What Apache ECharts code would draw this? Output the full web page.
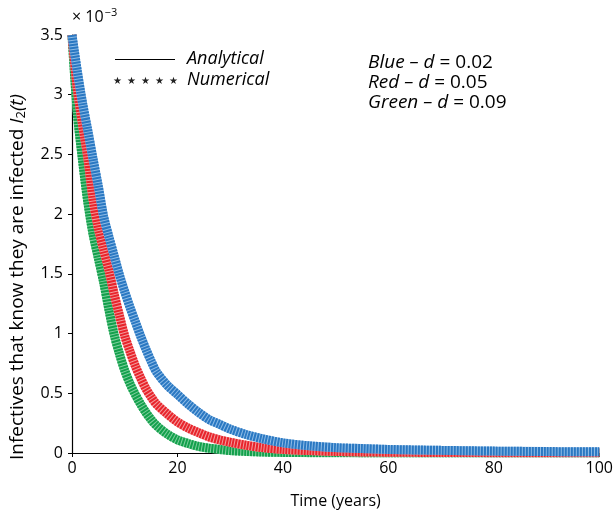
<!DOCTYPE html>
<html><head><meta charset="utf-8">
<script src="https://cdn.jsdelivr.net/npm/echarts@6/dist/echarts.min.js"></script>
<style>html,body{margin:0;padding:0;background:#fff}#c{width:616px;height:524px}</style>
</head><body><div id="c"></div>
<script>
// time (years)
const timeYears = [0,1,2,3,4,5,6,7,8,9,10,11,12,13,14,15,16,18,20,22,24,26,28,30,33,36,40,45,50,55,60,70,80,90,100];
// I2(t) in units of 1e-3
const blueD002 = [3.5,3.2,2.93,2.7,2.46,2.23,1.98,1.81,1.65,1.49,1.35,1.22,1.1,0.98,0.87,0.77,0.68,0.57,0.49,0.41,0.34,0.28,0.24,0.2,0.155,0.12,0.085,0.06,0.045,0.037,0.03,0.022,0.016,0.012,0.01];
const redD005  = [3.5,3.05,2.75,2.47,2.12,1.88,1.7,1.53,1.33,1.15,0.98,0.85,0.73,0.63,0.54,0.47,0.41,0.33,0.26,0.21,0.17,0.135,0.11,0.09,0.065,0.045,0.03,0.02,0.013,0.009,0.007,0.004,0.003,0.002,0.002];
const greenD009= [3.5,2.85,2.45,2.1,1.83,1.63,1.43,1.2,0.99,0.83,0.69,0.58,0.49,0.41,0.34,0.28,0.23,0.16,0.11,0.08,0.055,0.04,0.03,0.02,0.013,0.008,0.005,0.003,0.002,0.001,0.001,0,0,0,0];
const xTicks = {min:0, max:100, interval:20};
const yTicks = {min:0, max:3.5, interval:0.5};
const notes = [['Blue','0.02'],['Red','0.05'],['Green','0.09']];

const FONT = 'Open Sans';
function pairs(ys){ return timeYears.map((t,i)=>[t, ys[i]]); }
function band(name, ys, dark, light){
  return [
    {name:name+'_base', type:'line', data:pairs(ys), smooth:0.3, showSymbol:false, silent:true,
     lineStyle:{color:light, width:9, cap:'butt'}},
    {name:name, type:'line', data:pairs(ys), smooth:0.3, showSymbol:false, silent:true,
     lineStyle:{color:dark, width:9, type:[2,1], cap:'butt'}}
  ];
}
const chart = echarts.init(document.getElementById('c'), null, {renderer:'canvas'});
const graphic = [
  {type:'text', left:72, top:7, style:{text:'{a|× 10}{b|−3}',
    rich:{a:{font:'16px '+FONT, fill:'#000'}, b:{font:'11px '+FONT, fill:'#000', padding:[0,0,9,1]}}}},
  {type:'line', shape:{x1:115,y1:59.5,x2:175,y2:59.5}, style:{stroke:'#000', lineWidth:1.2}},
  {type:'text', left:187, top:50, style:{text:'Analytical', font:'italic 18px '+FONT, fill:'#000'}},
  {type:'text', left:187, top:71, style:{text:'Numerical', font:'italic 18px '+FONT, fill:'#000'}}
];
for (let k=0;k<5;k++){
  graphic.push({type:'text', left:113+k*14, top:76, style:{text:'★', font:'10px DejaVu Sans', fill:'#222'}});
}
notes.forEach((n,i)=>{
  graphic.push({type:'text', left:368, top:53+i*20, style:{
    text:'{i|'+n[0]+' – d}{n| = '+n[1]+'}',
    rich:{i:{font:'italic 19px '+FONT, fill:'#000'}, n:{font:'19px '+FONT, fill:'#000'}}}});
});

chart.setOption({
  animation:false,
  backgroundColor:'#fff',
  grid:{left:72, right:13, top:35, bottom:71},
  xAxis:[{type:'value', min:xTicks.min, max:xTicks.max, interval:xTicks.interval,
    name:'Time (years)', nameLocation:'middle', nameGap:40,
    nameTextStyle:{fontFamily:FONT, fontSize:16, color:'#000'},
    axisLine:{onZero:false, lineStyle:{color:'#000', width:1.2}},
    axisTick:{show:true, length:4, lineStyle:{color:'#000'}},
    axisLabel:{fontFamily:FONT, fontSize:16, color:'#000', margin:7},
    splitLine:{show:false}},
   {type:'value', position:'top', min:xTicks.min, max:xTicks.max,
    axisLine:{show:true, lineStyle:{color:'#000', width:1, type:[4,3]}},
    axisTick:{show:false}, axisLabel:{show:false}, splitLine:{show:false}}],
  yAxis:[{type:'value', min:yTicks.min, max:yTicks.max, interval:yTicks.interval,
    name:'{n|Infectives that know they are infected }{i|I}{s|2}{i|(t)}', nameLocation:'middle', nameGap:44, nameRotate:90,
    nameTextStyle:{fontFamily:FONT, fontSize:19, color:'#000', padding:[0,66,0,0],
      rich:{n:{fontFamily:FONT, fontSize:19, color:'#000'},
            i:{fontFamily:FONT, fontSize:19, fontStyle:'italic', color:'#000'},
            s:{fontFamily:FONT, fontSize:13, color:'#000', padding:[8,0,0,0]}}},
    axisLine:{show:true, onZero:false, lineStyle:{color:'#000', width:1.2}},
    axisTick:{show:true, length:4, lineStyle:{color:'#000'}},
    axisLabel:{fontFamily:FONT, fontSize:16, color:'#000', margin:9},
    splitLine:{show:false}},
   {type:'value', position:'right', min:yTicks.min, max:yTicks.max,
    axisLine:{show:true, lineStyle:{color:'#000', width:1, type:[4,3]}},
    axisTick:{show:false}, axisLabel:{show:false}, splitLine:{show:false}}],
  series:[].concat(
    band('Green', greenD009, '#13a04c', '#7fcf9e'),
    band('Red', redD005, '#e8242b', '#f39a9c'),
    band('Blue', blueD002, '#2a78c2', '#8dbbe6')
  ),
  graphic: graphic
});
</script></body></html>
